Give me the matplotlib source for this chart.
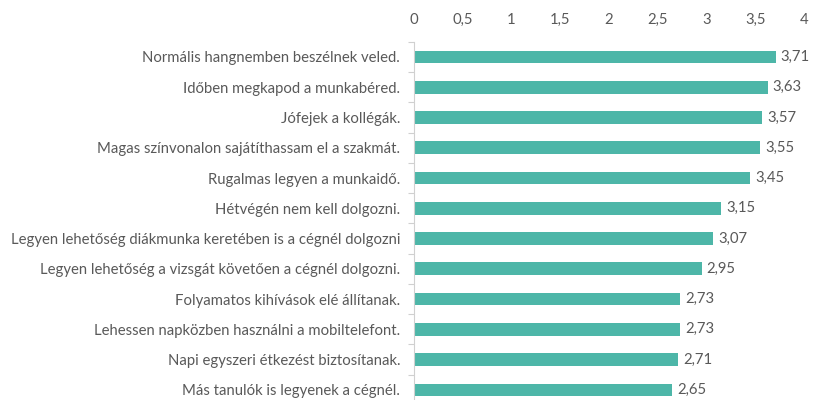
import matplotlib.pyplot as plt
import numpy as np

labels = [
    "Normális hangnemben beszélnek veled.",
    "Időben megkapod a munkabéred.",
    "Jófejek a kollégák.",
    "Magas színvonalon sajátíthassam el a szakmát.",
    "Rugalmas legyen a munkaidő.",
    "Hétvégén nem kell dolgozni.",
    "Legyen lehetőség diákmunka keretében is a cégnél dolgozni",
    "Legyen lehetőség a vizsgát követően a cégnél dolgozni.",
    "Folyamatos kihívások elé állítanak.",
    "Lehessen napközben használni a mobiltelefont.",
    "Napi egyszeri étkezést biztosítanak.",
    "Más tanulók is legyenek a cégnél.",
]
values = [3.71, 3.63, 3.57, 3.55, 3.45, 3.15, 3.07, 2.95, 2.73, 2.73, 2.71, 2.65]
xticks = [0, 0.5, 1, 1.5, 2, 2.5, 3, 3.5, 4]

plt.rcParams['font.family'] = ['Lato', 'DejaVu Sans']
gray = '#595959'
color = '#4db6a8'
fs = 10.7

fig = plt.figure(figsize=(8.14, 4.0), dpi=100)
ax = fig.add_axes([0.5086, -0.0125, 0.4791, 0.9079])

y = np.arange(len(labels))
ax.barh(y, values, height=0.42, color=color)
for yi, v in zip(y, values):
    ax.text(v + 0.05, yi, f"{v:.2f}".replace('.', ','), va='center', ha='left',
            fontsize=fs, color=gray)

ax.set_ylim(len(labels) - 0.5, -0.5)
ax.set_xlim(0, 4)
ax.set_yticks(y)
ax.set_yticklabels(labels, fontsize=fs, color=gray)
ax.set_yticks(np.arange(len(labels) + 1) - 0.5, minor=True)
ax.tick_params(axis='y', which='major', length=0, pad=10)
ax.tick_params(axis='y', which='minor', length=4, color='#d0d0d0', width=0.8)

ax.xaxis.tick_top()
ax.set_xticks(xticks)
ax.set_xticklabels([f"{t:g}".replace('.', ',') for t in xticks], fontsize=fs, color=gray)
ax.tick_params(axis='x', length=0, pad=11)

for s in ['top', 'right', 'bottom']:
    ax.spines[s].set_visible(False)
ax.spines['left'].set_color('#d0d0d0')
ax.spines['left'].set_linewidth(0.8)

fig.savefig('out.png', dpi=100)
